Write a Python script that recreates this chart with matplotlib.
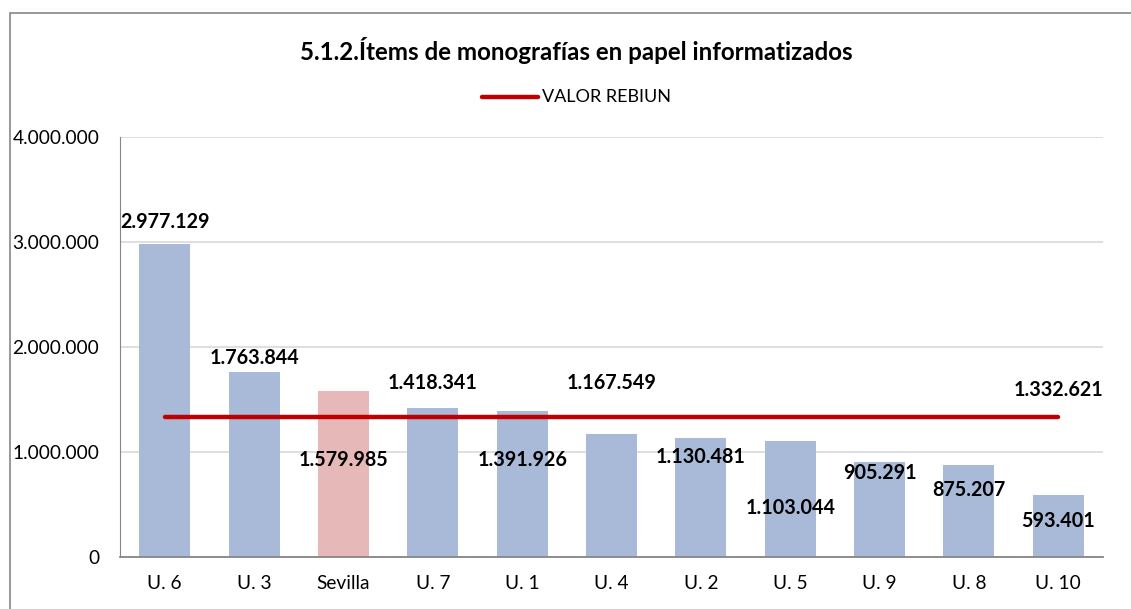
import matplotlib.pyplot as plt
from matplotlib.patches import Rectangle
from matplotlib.lines import Line2D

plt.rcParams['font.family'] = ['Lato', 'DejaVu Sans']

# data
categories = ["U. 6", "U. 3", "Sevilla", "U. 7", "U. 1", "U. 4", "U. 2", "U. 5", "U. 9", "U. 8", "U. 10"]
values = [2977129, 1763844, 1579985, 1418341, 1391926, 1167549, 1130481, 1103044, 905291, 875207, 593401]
rebiun = 1332621

# where the value labels sit (same odd placement as the original chart)
label_y = [3.19e6, 1.90e6, 0.92e6, 1.66e6, 0.92e6, 1.66e6, 0.95e6, 0.47e6, 0.80e6, 0.64e6, 0.34e6]

def fmt(v):
    return f"{v:,}".replace(",", ".")

fig = plt.figure(figsize=(11.31, 6.09), dpi=100)
ax = fig.add_axes([120/1131, 52/609, 983/1131, 420/609])

colors = ['#E6B8B7' if c == "Sevilla" else '#A9B9D8' for c in categories]
x = list(range(len(categories)))
ax.bar(x, values, width=0.57, color=colors, zorder=2)
ax.plot([x[0], x[-1]], [rebiun, rebiun], color='#C00000', lw=3.2,
        solid_capstyle='round', zorder=3)

for xi, v, ly in zip(x, values, label_y):
    ax.text(xi, ly, fmt(v), ha='center', va='center', fontsize=14.2,
            fontweight='bold', zorder=4)
ax.text(x[-1], 1.59e6, fmt(rebiun), ha='center', va='center', fontsize=14.2,
        fontweight='bold', zorder=4)

ax.set_xlim(-0.5, len(categories) - 0.5)
ax.set_ylim(0, 4000000)
ax.set_yticks([0, 1000000, 2000000, 3000000, 4000000])
ax.set_yticklabels([fmt(t) for t in [0, 1000000, 2000000, 3000000, 4000000]])
ax.set_xticks(x)
ax.set_xticklabels(categories)
ax.tick_params(length=0, labelsize=13.8, colors='#000000')
ax.tick_params(axis='y', pad=15)
ax.tick_params(axis='x', pad=13)
ax.grid(axis='y', color='#D9D9D9', lw=1.2, zorder=0)
for s in ['top', 'right']:
    ax.spines[s].set_visible(False)
ax.spines['left'].set_color('#868686')
ax.spines['bottom'].set_color('#868686')
ax.spines['bottom'].set_linewidth(1.3)

fig.text(576/1131, 1 - 50/609, "5.1.2.Ítems de monografías en papel informatizados",
         ha='center', va='center', fontsize=17.4, fontweight='bold')

# legend
fig.add_artist(Line2D([482/1131, 538/1131], [1 - 97/609, 1 - 97/609], color='#C00000',
                      lw=3.2, solid_capstyle='round'))
fig.text(542/1131, 1 - 97/609, "VALOR REBIUN", ha='left', va='center', fontsize=13)

# outer frame
fig.add_artist(Rectangle((10/1131, -0.1), 1.2, 1 - 13/609 + 0.1, fill=False,
                         edgecolor='#868686', lw=1.2, transform=fig.transFigure))

fig.savefig("out.png", dpi=100)
